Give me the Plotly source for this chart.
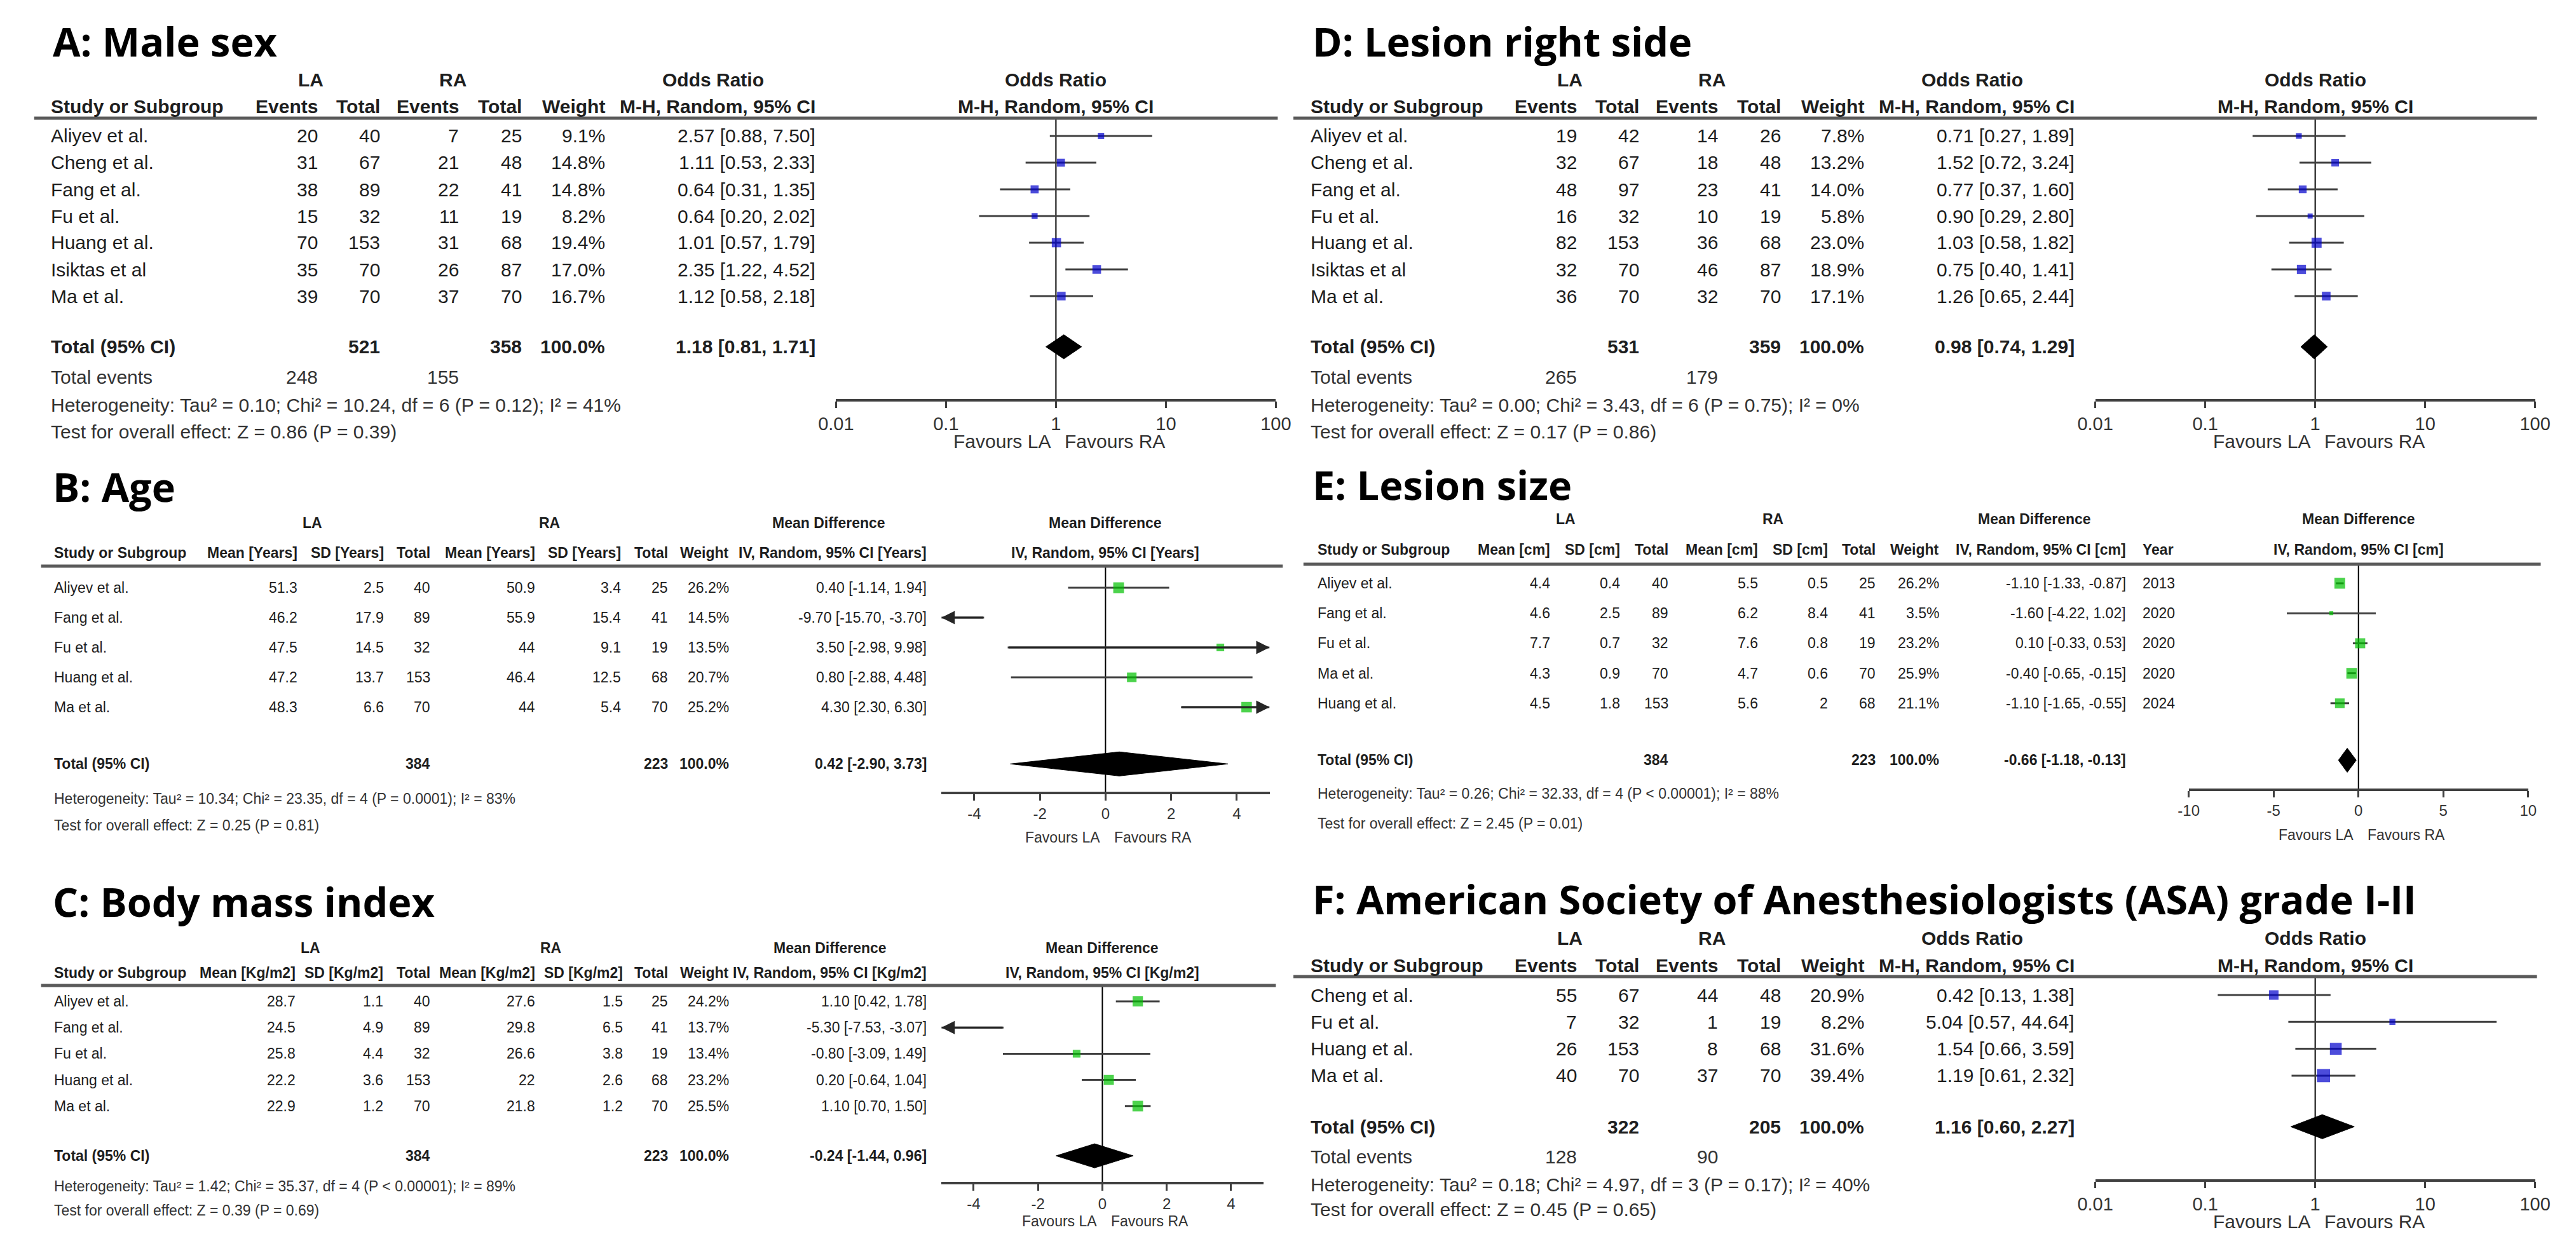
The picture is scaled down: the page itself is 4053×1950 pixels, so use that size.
import math
import plotly.graph_objects as go

W, H = 4053, 1950
SANS = "Liberation Sans, Arial, sans-serif"
TITLE_FONT = "Open Sans, Lato, sans-serif"
INK = "#1e1e1e"
GREY = "#333333"
LINE = "#404040"
BLUE = "#0000cc"
GREEN = "#00c000"

# ---------------- A: Male sex (odds ratio) ----------------
studies_a = ["Aliyev et al.", "Cheng et al.", "Fang et al.", "Fu et al.", "Huang et al.", "Isiktas et al", "Ma et al."]
la_events_a = [20, 31, 38, 15, 70, 35, 39]
la_total_a = [40, 67, 89, 32, 153, 70, 70]
ra_events_a = [7, 21, 22, 11, 31, 26, 37]
ra_total_a = [25, 48, 41, 19, 68, 87, 70]
weight_a = [9.1, 14.8, 14.8, 8.2, 19.4, 17.0, 16.7]
or_a = [2.57, 1.11, 0.64, 0.64, 1.01, 2.35, 1.12]
lo_a = [0.88, 0.53, 0.31, 0.20, 0.57, 1.22, 0.58]
hi_a = [7.50, 2.33, 1.35, 2.02, 1.79, 4.52, 2.18]
pooled_a = [1.18, 0.81, 1.71]
het_a = "Heterogeneity: Tau² = 0.10; Chi² = 10.24, df = 6 (P = 0.12); I² = 41%"
test_a = "Test for overall effect: Z = 0.86 (P = 0.39)"

# ---------------- B: Age (mean difference) ----------------
studies_b = ["Aliyev et al.", "Fang et al.", "Fu et al.", "Huang et al.", "Ma et al."]
la_mean_b = [51.3, 46.2, 47.5, 47.2, 48.3]
la_sd_b = [2.5, 17.9, 14.5, 13.7, 6.6]
la_n_b = [40, 89, 32, 153, 70]
ra_mean_b = [50.9, 55.9, 44, 46.4, 44]
ra_sd_b = [3.4, 15.4, 9.1, 12.5, 5.4]
ra_n_b = [25, 41, 19, 68, 70]
weight_b = [26.2, 14.5, 13.5, 20.7, 25.2]
md_b = [0.40, -9.70, 3.50, 0.80, 4.30]
lo_b = [-1.14, -15.70, -2.98, -2.88, 2.30]
hi_b = [1.94, -3.70, 9.98, 4.48, 6.30]
pooled_b = [0.42, -2.90, 3.73]
het_b = "Heterogeneity: Tau² = 10.34; Chi² = 23.35, df = 4 (P = 0.0001); I² = 83%"
test_b = "Test for overall effect: Z = 0.25 (P = 0.81)"

# ---------------- C: Body mass index (mean difference) ----------------
studies_c = ["Aliyev et al.", "Fang et al.", "Fu et al.", "Huang et al.", "Ma et al."]
la_mean_c = [28.7, 24.5, 25.8, 22.2, 22.9]
la_sd_c = [1.1, 4.9, 4.4, 3.6, 1.2]
la_n_c = [40, 89, 32, 153, 70]
ra_mean_c = [27.6, 29.8, 26.6, 22, 21.8]
ra_sd_c = [1.5, 6.5, 3.8, 2.6, 1.2]
ra_n_c = [25, 41, 19, 68, 70]
weight_c = [24.2, 13.7, 13.4, 23.2, 25.5]
md_c = [1.10, -5.30, -0.80, 0.20, 1.10]
lo_c = [0.42, -7.53, -3.09, -0.64, 0.70]
hi_c = [1.78, -3.07, 1.49, 1.04, 1.50]
pooled_c = [-0.24, -1.44, 0.96]
het_c = "Heterogeneity: Tau² = 1.42; Chi² = 35.37, df = 4 (P < 0.00001); I² = 89%"
test_c = "Test for overall effect: Z = 0.39 (P = 0.69)"

# ---------------- D: Lesion right side (odds ratio) ----------------
studies_d = ["Aliyev et al.", "Cheng et al.", "Fang et al.", "Fu et al.", "Huang et al.", "Isiktas et al", "Ma et al."]
la_events_d = [19, 32, 48, 16, 82, 32, 36]
la_total_d = [42, 67, 97, 32, 153, 70, 70]
ra_events_d = [14, 18, 23, 10, 36, 46, 32]
ra_total_d = [26, 48, 41, 19, 68, 87, 70]
weight_d = [7.8, 13.2, 14.0, 5.8, 23.0, 18.9, 17.1]
or_d = [0.71, 1.52, 0.77, 0.90, 1.03, 0.75, 1.26]
lo_d = [0.27, 0.72, 0.37, 0.29, 0.58, 0.40, 0.65]
hi_d = [1.89, 3.24, 1.60, 2.80, 1.82, 1.41, 2.44]
pooled_d = [0.98, 0.74, 1.29]
het_d = "Heterogeneity: Tau² = 0.00; Chi² = 3.43, df = 6 (P = 0.75); I² = 0%"
test_d = "Test for overall effect: Z = 0.17 (P = 0.86)"

# ---------------- E: Lesion size (mean difference) ----------------
studies_e = ["Aliyev et al.", "Fang et al.", "Fu et al.", "Ma et al.", "Huang et al."]
la_mean_e = [4.4, 4.6, 7.7, 4.3, 4.5]
la_sd_e = [0.4, 2.5, 0.7, 0.9, 1.8]
la_n_e = [40, 89, 32, 70, 153]
ra_mean_e = [5.5, 6.2, 7.6, 4.7, 5.6]
ra_sd_e = [0.5, 8.4, 0.8, 0.6, 2]
ra_n_e = [25, 41, 19, 70, 68]
weight_e = [26.2, 3.5, 23.2, 25.9, 21.1]
md_e = [-1.10, -1.60, 0.10, -0.40, -1.10]
lo_e = [-1.33, -4.22, -0.33, -0.65, -1.65]
hi_e = [-0.87, 1.02, 0.53, -0.15, -0.55]
year_e = [2013, 2020, 2020, 2020, 2024]
pooled_e = [-0.66, -1.18, -0.13]
het_e = "Heterogeneity: Tau² = 0.26; Chi² = 32.33, df = 4 (P < 0.00001); I² = 88%"
test_e = "Test for overall effect: Z = 2.45 (P = 0.01)"

# ---------------- F: ASA grade I-II (odds ratio) ----------------
studies_f = ["Cheng et al.", "Fu et al.", "Huang et al.", "Ma et al."]
la_events_f = [55, 7, 26, 40]
la_total_f = [67, 32, 153, 70]
ra_events_f = [44, 1, 8, 37]
ra_total_f = [48, 19, 68, 70]
weight_f = [20.9, 8.2, 31.6, 39.4]
or_f = [0.42, 5.04, 1.54, 1.19]
lo_f = [0.13, 0.57, 0.66, 0.61]
hi_f = [1.38, 44.64, 3.59, 2.32]
pooled_f = [1.16, 0.60, 2.27]
het_f = "Heterogeneity: Tau² = 0.18; Chi² = 4.97, df = 3 (P = 0.17); I² = 40%"
test_f = "Test for overall effect: Z = 0.45 (P = 0.65)"

# axis ticks
or_ticks = [0.01, 0.1, 1, 10, 100]
or_ticktext = ["0.01", "0.1", "1", "10", "100"]
md_ticks_5 = [-4, -2, 0, 2, 4]
md_ticks_10 = [-10, -5, 0, 5, 10]

# ---------------- page geometry (pixels) ----------------
GEO_A = dict(title_y=56, group_y=118, head_y=159, rule_y=178, row0=206, step=42, axis_y=620,
             events_y=585, het_y=629, test_y=671, fav_y=686)
GEO_D = dict(GEO_A)
GEO_F = dict(title_y=1406, group_y=1468, head_y=1511, rule_y=1529, row0=1558, step=42.3, axis_y=1848,
             events_y=1812, het_y=1856, test_y=1895, fav_y=1914)
GEO_B = dict(title_y=757, group_y=815, head_y=862, rule_y=883, row0=917, step=47, axis_y=1238,
             het_y=1249, test_y=1291, fav_y=1310)
GEO_C = dict(title_y=1410, group_y=1484, head_y=1523, rule_y=1543, row0=1568, step=41.2, axis_y=1852,
             het_y=1859, test_y=1897, fav_y=1914)
GEO_E = dict(title_y=755, group_y=809, head_y=857, rule_y=880, row0=910, step=47.2, axis_y=1233,
             het_y=1241, test_y=1288, fav_y=1306)

OR_SIZE = 30   # table text in the event-count panels
MD_SIZE = 23   # condensed tables of the mean-difference panels
TITLE_SIZE = 63

fig = go.Figure()
annotations = []
shapes = []
layout_axes = {}


def add_text(x, y, s, anchor="right", size=30, bold=False, color=INK, font=SANS):
    annotations.append(dict(
        x=x / W, y=1 - y / H, xref="paper", yref="paper",
        text=f"<b>{s}</b>" if bold else s, showarrow=False,
        xanchor=anchor, yanchor="middle",
        font=dict(family=font, size=size, color=color)))


def row_y(g, r):
    return g["row0"] + r * g["step"]


def fmt_ci(v):
    return f"{v[0]:.2f} [{v[1]:.2f}, {v[2]:.2f}]"


def setup_axes(k, g, ax_px, log, rng, tickvals, ticktext, size):
    xname = "xaxis" if k == 1 else f"xaxis{k}"
    yname = "yaxis" if k == 1 else f"yaxis{k}"
    xref = "x" if k == 1 else f"x{k}"
    yref = "y" if k == 1 else f"y{k}"
    y_top = (g["rule_y"] - g["row0"]) / g["step"]
    y_bot = (g["axis_y"] - g["row0"]) / g["step"]
    layout_axes[xname] = dict(
        type="log" if log else "linear", range=rng,
        domain=[ax_px[0] / W, ax_px[1] / W], anchor=yref,
        showline=True, linecolor=LINE, linewidth=4,
        ticks="outside", ticklen=10, tickwidth=3, tickcolor=LINE,
        tickvals=tickvals, ticktext=ticktext,
        tickfont=dict(family=SANS, size=size, color=GREY),
        showgrid=False, zeroline=False, fixedrange=True)
    layout_axes[yname] = dict(
        domain=[1 - g["axis_y"] / H, 1 - g["rule_y"] / H],
        range=[y_bot, y_top], visible=False, anchor=xref, fixedrange=True)
    return xref, yref, y_top, y_bot


def draw_forest(xref, yref, y_top, y_bot, g, log, rng, est, lo, hi, weight, pooled, color):
    n = len(est)
    if log:
        xmin, xmax = 10 ** rng[0], 10 ** rng[1]
    else:
        xmin, xmax = rng
    null = 1 if log else 0
    to_ax = (lambda v: math.log10(v)) if log else (lambda v: v)

    # line of no effect
    fig.add_trace(go.Scatter(x=[null, null], y=[y_top, y_bot], mode="lines",
                             line=dict(color="black", width=2), xaxis=xref, yaxis=yref,
                             hoverinfo="skip"))
    # confidence intervals, clipped to the axis with an arrow when they run off it
    xs, ys = [], []
    for r in range(n):
        a, b = max(lo[r], xmin), min(hi[r], xmax)
        xs += [a, b, None]
        ys += [r, r, None]
        for off, tip, tail in [(lo[r] < xmin, xmin, b), (hi[r] > xmax, xmax, a)]:
            if off:
                annotations.append(dict(x=to_ax(tip), y=r, ax=to_ax(tail), ay=r, xref=xref, yref=yref,
                                        axref=xref, ayref=yref, text="", showarrow=True, arrowhead=2,
                                        arrowsize=1.4, arrowwidth=3, arrowcolor="#262626", standoff=0))
    fig.add_trace(go.Scatter(x=xs, y=ys, mode="lines", line=dict(color=LINE, width=3),
                             xaxis=xref, yaxis=yref, hoverinfo="skip"))
    # study squares, area proportional to weight
    inside = [r for r in range(n) if xmin <= est[r] <= xmax]
    fig.add_trace(go.Scatter(
        x=[est[r] for r in inside], y=inside, mode="markers",
        marker=dict(symbol="square", color=color, line=dict(width=0),
                    size=[3.3 * math.sqrt(weight[r]) for r in inside]),
        xaxis=xref, yaxis=yref, hoverinfo="skip"))
    # pooled diamond
    t = n + 0.9
    h = 19 / g["step"]
    fig.add_trace(go.Scatter(
        x=[pooled[1], pooled[0], pooled[2], pooled[0], pooled[1]],
        y=[t, t - h, t, t + h, t], mode="lines", fill="toself", fillcolor="black",
        line=dict(color="black", width=1), xaxis=xref, yaxis=yref, hoverinfo="skip"))


def forest_labels(xref, g, head1, head2, size):
    for y, s in [(g["group_y"], head1), (g["head_y"], head2)]:
        annotations.append(dict(x=0, y=1 - y / H, xref=xref, yref="paper", text=f"<b>{s}</b>",
                                showarrow=False, xanchor="center", yanchor="middle",
                                font=dict(family=SANS, size=size, color=INK)))
    annotations.append(dict(x=0, y=1 - g["fav_y"] / H, xref=xref, yref="paper", text="Favours LA",
                            showarrow=False, xanchor="right", yanchor="middle", xshift=-6,
                            font=dict(family=SANS, size=size, color=GREY)))
    annotations.append(dict(x=0, y=1 - g["fav_y"] / H, xref=xref, yref="paper", text="Favours RA",
                            showarrow=False, xanchor="left", yanchor="middle", xshift=12,
                            font=dict(family=SANS, size=size, color=GREY)))


def rule(x0, x1, y):
    shapes.append(dict(type="line", xref="paper", yref="paper", x0=x0 / W, x1=x1 / W,
                       y0=1 - y / H, y1=1 - y / H, line=dict(color="#5a5a5a", width=5)))


def or_panel(k, g, dx, title, studies, la_ev, la_tot, ra_ev, ra_tot, weight, est, lo, hi,
             pooled, het, test):
    cols = [c + dx for c in [472, 571, 697, 797, 930, 1265]]
    lab = 43 + dx
    s = OR_SIZE
    add_text(46 + dx, g["title_y"], title, "left", TITLE_SIZE, True, "black", TITLE_FONT)
    add_text(459 + dx, g["group_y"], "LA", "center", s, True)
    add_text(685 + dx, g["group_y"], "RA", "center", s, True)
    add_text(1100 + dx, g["group_y"], "Odds Ratio", "center", s, True)
    add_text(lab, g["head_y"], "Study or Subgroup", "left", s, True)
    for c, h in zip(cols, ["Events", "Total", "Events", "Total", "Weight", "M-H, Random, 95% CI"]):
        add_text(c, g["head_y"], h, "right", s, True)
    rule(18 + dx, 2000 + dx, g["rule_y"])
    for r, name in enumerate(studies):
        y = row_y(g, r)
        add_text(lab, y, name, "left", s)
        vals = [la_ev[r], la_tot[r], ra_ev[r], ra_tot[r], f"{weight[r]:.1f}%",
                fmt_ci([est[r], lo[r], hi[r]])]
        for c, v in zip(cols, vals):
            add_text(c, y, str(v), "right", s)
    yt = row_y(g, len(studies) + 0.9)
    add_text(lab, yt, "Total (95% CI)", "left", s, True)
    add_text(cols[1], yt, str(sum(la_tot)), "right", s, True)
    add_text(cols[3], yt, str(sum(ra_tot)), "right", s, True)
    add_text(cols[4], yt, "100.0%", "right", s, True)
    add_text(cols[5], yt, fmt_ci(pooled), "right", s, True)
    add_text(lab, g["events_y"], "Total events", "left", s, color=GREY)
    add_text(cols[0], g["events_y"], str(sum(la_ev)), "right", s, color=GREY)
    add_text(cols[2], g["events_y"], str(sum(ra_ev)), "right", s, color=GREY)
    add_text(lab, g["het_y"], het, "left", s, color=GREY)
    add_text(lab, g["test_y"], test, "left", s, color=GREY)

    rng = [-2, 2]
    xref, yref, yt_ax, yb_ax = setup_axes(k, g, (1296 + dx, 1997 + dx), True, rng,
                                          or_ticks, or_ticktext, 29)
    draw_forest(xref, yref, yt_ax, yb_ax, g, True, rng, est, lo, hi, weight, pooled, BLUE)
    forest_labels(xref, g, "Odds Ratio", "M-H, Random, 95% CI", s)


def md_panel(k, g, geo_cols, title, unit, studies, la_m, la_sd, la_n, ra_m, ra_sd, ra_n, weight,
             est, lo, hi, pooled, het, test, ax_px, rng, ticks, year=None):
    cols, lab, la_c, ra_c, ci_c, title_x, rule_x, year_x = geo_cols
    s = MD_SIZE
    add_text(title_x, g["title_y"], title, "left", TITLE_SIZE, True, "black", TITLE_FONT)
    add_text(la_c, g["group_y"], "LA", "center", s, True)
    add_text(ra_c, g["group_y"], "RA", "center", s, True)
    add_text(ci_c, g["group_y"], "Mean Difference", "center", s, True)
    add_text(lab, g["head_y"], "Study or Subgroup", "left", s, True)
    heads = [f"Mean [{unit}]", f"SD [{unit}]", "Total", f"Mean [{unit}]", f"SD [{unit}]", "Total",
             "Weight", f"IV, Random, 95% CI [{unit}]"]
    for c, h in zip(cols, heads):
        add_text(c, g["head_y"], h, "right", s, True)
    if year is not None:
        add_text(year_x, g["head_y"], "Year", "left", s, True)
    rule(rule_x[0], rule_x[1], g["rule_y"])
    for r, name in enumerate(studies):
        y = row_y(g, r)
        add_text(lab, y, name, "left", s)
        vals = [f"{la_m[r]:g}", f"{la_sd[r]:g}", la_n[r], f"{ra_m[r]:g}", f"{ra_sd[r]:g}", ra_n[r],
                f"{weight[r]:.1f}%", fmt_ci([est[r], lo[r], hi[r]])]
        for c, v in zip(cols, vals):
            add_text(c, y, str(v), "right", s)
        if year is not None:
            add_text(year_x, y, str(year[r]), "left", s)
    yt = row_y(g, len(studies) + 0.9)
    add_text(lab, yt, "Total (95% CI)", "left", s, True)
    add_text(cols[2], yt, str(sum(la_n)), "right", s, True)
    add_text(cols[5], yt, str(sum(ra_n)), "right", s, True)
    add_text(cols[6], yt, "100.0%", "right", s, True)
    add_text(cols[7], yt, fmt_ci(pooled), "right", s, True)
    add_text(lab, g["het_y"], het, "left", s, color=GREY)
    add_text(lab, g["test_y"], test, "left", s, color=GREY)

    xref, yref, yt_ax, yb_ax = setup_axes(k, g, ax_px, False, rng, ticks,
                                          [str(t) for t in ticks], 24)
    draw_forest(xref, yref, yt_ax, yb_ax, g, False, rng, est, lo, hi, weight, pooled, GREEN)
    forest_labels(xref, g, "Mean Difference", f"IV, Random, 95% CI [{unit}]", s)


or_panel(1, GEO_A, 0, "A: Male sex", studies_a, la_events_a, la_total_a, ra_events_a, ra_total_a,
         weight_a, or_a, lo_a, hi_a, pooled_a, het_a, test_a)
or_panel(2, GEO_D, 2007, "D: Lesion right side", studies_d, la_events_d, la_total_d, ra_events_d,
         ra_total_d, weight_d, or_d, lo_d, hi_d, pooled_d, het_d, test_d)
or_panel(3, GEO_F, 2007, "F: American Society of Anesthesiologists (ASA) grade I-II", studies_f,
         la_events_f, la_total_f, ra_events_f, ra_total_f, weight_f, or_f, lo_f, hi_f, pooled_f,
         het_f, test_f)

cols_b = ([440, 577, 651, 818, 955, 1030, 1127, 1443], 48, 461, 839, 1284, 46, (29, 2008), None)
cols_c = ([437, 576, 651, 818, 958, 1030, 1127, 1443], 48, 458, 841, 1286, 46, (29, 1997), None)
cols_e = ([2436, 2548, 2625, 2768, 2879, 2955, 3056, 3354], 2061, 2459, 2789, 3206, 2053,
          (2041, 4013), 3376)

md_panel(4, GEO_B, cols_b, "B: Age", "Years", studies_b, la_mean_b, la_sd_b, la_n_b, ra_mean_b,
         ra_sd_b, ra_n_b, weight_b, md_b, lo_b, hi_b, pooled_b, het_b, test_b,
         (1464, 1987), [-5, 5], md_ticks_5)
md_panel(5, GEO_C, cols_c, "C: Body mass index", "Kg/m2", studies_c, la_mean_c, la_sd_c, la_n_c,
         ra_mean_c, ra_sd_c, ra_n_c, weight_c, md_c, lo_c, hi_c, pooled_c, het_c, test_c,
         (1464, 1977), [-5, 5], md_ticks_5)
md_panel(6, GEO_E, cols_e, "E: Lesion size", "cm", studies_e, la_mean_e, la_sd_e, la_n_e,
         ra_mean_e, ra_sd_e, ra_n_e, weight_e, md_e, lo_e, hi_e, pooled_e, het_e, test_e,
         (3452, 3993), [-10, 10], md_ticks_10, year=year_e)

fig.update_layout(
    width=W, height=H, margin=dict(l=0, r=0, t=0, b=0),
    paper_bgcolor="white", plot_bgcolor="rgba(0,0,0,0)", showlegend=False,
    annotations=annotations, shapes=shapes, **layout_axes)

fig.write_html("out.html")
